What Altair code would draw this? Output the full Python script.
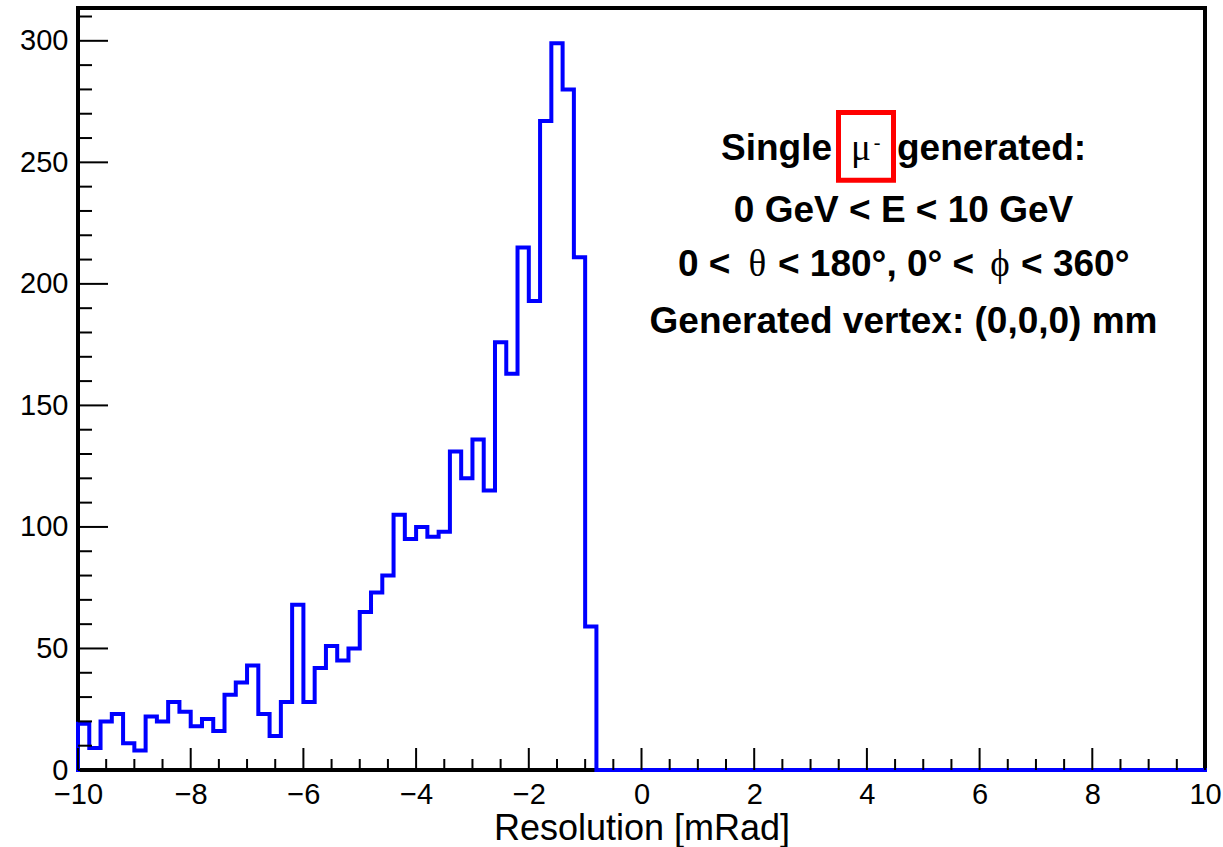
import altair as alt
import pandas as pd

# ---- histogram data (bin low edges, width 0.2 mRad) ----
bin_lo = [round(-10 + 0.2 * i, 1) for i in range(100)]
counts = [19, 9, 20, 23, 11, 8, 22, 20, 28, 24,
          18, 21, 16, 31, 36, 43, 23, 14, 28, 68,
          28, 42, 51, 45, 50, 65, 73, 80, 105, 95,
          100, 96, 98, 131, 120, 136, 115, 176, 163, 215,
          193, 267, 299, 280, 211, 59, 0, 0, 0, 0,
          0, 0, 0, 0, 0, 0, 0, 0, 0, 0,
          0, 0, 0, 0, 0, 0, 0, 0, 0, 0,
          0, 0, 0, 0, 0, 0, 0, 0, 0, 0,
          0, 0, 0, 0, 0, 0, 0, 0, 0, 0,
          0, 0, 0, 0, 0, 0, 0, 0, 0, 0]

x_major = [-10, -8, -6, -4, -2, 0, 2, 4, 6, 8, 10]
x_minor = [-9.5, -9, -8.5, -7.5, -7, -6.5, -5.5, -5, -4.5, -3.5, -3, -2.5,
           -1.5, -1, -0.5, 0.5, 1, 1.5, 2.5, 3, 3.5, 4.5, 5, 5.5, 6.5, 7, 7.5,
           8.5, 9, 9.5]
y_major = [0, 50, 100, 150, 200, 250, 300]
y_minor = [10, 20, 30, 40, 60, 70, 80, 90, 110, 120, 130, 140, 160, 170, 180,
           190, 210, 220, 230, 240, 260, 270, 280, 290, 310]

x_title = "Resolution [mRad]"

# annotation text segments
bold_center = ["0 GeV < E < 10 GeV", "Generated vertex: (0,0,0) mm"]
bold_left = ["generated:", "0 <", "< 180°, 0° <", "< 360°"]
bold_right = ["Single"]
serif_center = ["μ", "θ", "ϕ"]
serif_sup = ["-"]

# annotation anchor positions (data units)
bc_x, bc_y = [4.65, 4.65], [225.5, 179.7]
bl_x, bl_y = [4.534, 0.648, 2.422, 6.735], [251.0, 203.2, 203.2, 203.2]
br_x, br_y = [3.381], [251.0]
sc_x, sc_y = [3.895, 2.058, 6.362], [251.0, 203.2, 203.2]
ss_x, ss_y = [4.179], [255.5]
box_x, box_x2, box_y, box_y2 = [3.496], [4.472], [242.6], [270.5]

W, H = 1127, 762
XDOM = [-10, 10]
YDOM = [0, 313.5]
FONT = "Liberation Sans"
SERIF = "Liberation Serif, DejaVu Serif"

xs = alt.Scale(domain=XDOM, nice=False, zero=False)
ys = alt.Scale(domain=YDOM, nice=False, zero=False)

hist_df = pd.DataFrame({
    "x": [-10.0] + bin_lo + [10.0],
    "y": [0] + counts + [0],
})
hist_df["i"] = range(len(hist_df))

hist = alt.Chart(hist_df).mark_line(
    interpolate="step-after", color="#0000FF", strokeWidth=4,
    strokeJoin="miter", strokeCap="square"
).encode(
    x=alt.X("x:Q", scale=xs, axis=alt.Axis(
        values=x_major, format="d", ticks=False, domain=False, grid=False,
        labelFontSize=29, labelFont=FONT, labelColor="black",
        labelPadding=10, labelFlush=False, labelOverlap=False,
        title=x_title, titleFontSize=36, titleFont=FONT,
        titleFontWeight="normal", titleColor="black",
        titleBaseline="alphabetic", titleAlign="center",
        titleX=W / 2, titleY=69)),
    y=alt.Y("y:Q", scale=ys, axis=alt.Axis(
        values=y_major, format="d", ticks=False, domain=False, grid=False,
        labelFontSize=29, labelFont=FONT, labelColor="black",
        labelPadding=10, labelFlush=False, labelOverlap=False, title=" ")),
    order="i:Q",
)

def xticks(vals, length):
    return alt.Chart(pd.DataFrame({"x": vals})).mark_rule(
        color="black", strokeWidth=2).encode(
        x=alt.X("x:Q", scale=xs),
        y=alt.value(H), y2=alt.value(H - length))

def yticks(vals, length):
    return alt.Chart(pd.DataFrame({"y": vals})).mark_rule(
        color="black", strokeWidth=2).encode(
        y=alt.Y("y:Q", scale=ys),
        x=alt.value(0), x2=alt.value(length))

def texts(xv, yv, tv, align, font, size, weight):
    df = pd.DataFrame({"x": xv, "y": yv, "t": tv})
    return alt.Chart(df).mark_text(
        align=align, baseline="alphabetic", font=font, fontSize=size,
        fontWeight=weight, color="black").encode(
        x=alt.X("x:Q", scale=xs),
        y=alt.Y("y:Q", scale=ys),
        text="t:N")

box = alt.Chart(pd.DataFrame({"x": box_x, "x2": box_x2, "y": box_y, "y2": box_y2})).mark_rect(
    filled=False, stroke="#FF0000", strokeWidth=5).encode(
    x=alt.X("x:Q", scale=xs), x2="x2:Q",
    y=alt.Y("y:Q", scale=ys), y2="y2:Q")

chart = alt.layer(
    hist,
    xticks(x_major, 22), xticks(x_minor, 11),
    yticks(y_major, 30), yticks(y_minor, 14),
    texts(bc_x, bc_y, bold_center, "center", FONT, 37, "bold"),
    texts(bl_x, bl_y, bold_left, "left", FONT, 37, "bold"),
    texts(br_x, br_y, bold_right, "right", FONT, 37, "bold"),
    texts(sc_x, sc_y, serif_center, "center", SERIF, 37, "normal"),
    texts(ss_x, ss_y, serif_sup, "center", SERIF, 20, "normal"),
    box,
).properties(
    width=W, height=H,
    autosize=alt.AutoSizeParams(type="none"),
    padding={"left": 78, "top": 8, "right": 18, "bottom": 77},
    background="white",
).configure_view(
    stroke="black", strokeWidth=4
)

chart.save("out.html", embed_options={"renderer": "svg", "actions": False})
